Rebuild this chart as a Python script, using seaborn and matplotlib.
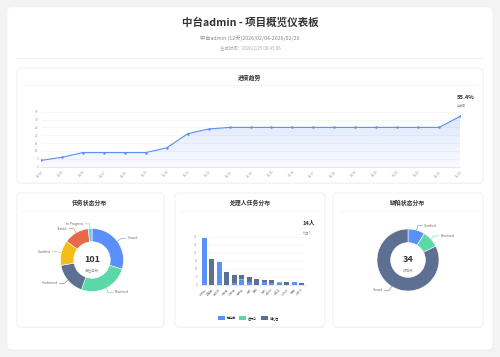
import numpy as np
import matplotlib
matplotlib.use("Agg")
import matplotlib.pyplot as plt
import seaborn as sns
from matplotlib.patches import FancyBboxPatch, Patch

# ---------------- data ----------------
dates = ["02/04", "02/05", "02/06", "02/07", "02/08", "02/09", "02/10", "02/11",
         "02/12", "02/13", "02/14", "02/15", "02/16", "02/17", "02/18", "02/19",
         "02/20", "02/21", "02/22", "02/23", "02/24"]
progress = [4, 6, 9, 9, 9, 9, 12, 21, 24, 25, 25, 25, 25, 25, 25, 25, 25, 25, 25, 25, 32]
completion_rate = "55.4%"

task_status = ["Closed", "Resolved", "Confirmed", "Clarified", "Tested", "In Progress"]
task_counts = [30, 26, 17, 13, 13, 2]
task_total = 101

assignees = ["张明华", "李建国", "王晓东", "刘志强", "陈思远", "杨丽娟", "赵磊",
             "黄鹏", "周杰", "吴晓峰", "郑海涛", "孙悦然", "马超", "胡文斌"]
done = [29, 0, 14, 0, 1, 3, 2, 0, 2, 1, 1, 0, 2, 0]
doing = [0, 0, 0, 0, 0, 1, 0, 0, 0, 0, 1, 0, 0, 0]
todo = [0, 16, 0, 8, 5, 2, 3, 4, 1, 2, 0, 2, 0, 1]
bar_series = ["已完成", "进行中", "待处理"]
assignee_count = "14人"

bug_status = ["Clarified", "Resolved", "Closed"]
bug_counts = [3, 3, 28]
bug_total = 34

# ---------------- style ----------------
BLUE, GREEN, SLATE, YELLOW, RED, CYAN = "#5B8FF9", "#5AD8A6", "#5D7092", "#F6BD16", "#E8684A", "#6DC8EC"
task_colors = [BLUE, GREEN, SLATE, YELLOW, RED, CYAN]
bug_colors = [BLUE, GREEN, SLATE]

sns.set_theme(style="white")
plt.rcParams['font.family'] = ['Noto Sans CJK SC', 'DejaVu Sans']

W, H = 500, 357
fig = plt.figure(figsize=(5, 3.57), dpi=100)
fig.patch.set_facecolor("#f3f3f3")
bg = fig.add_axes([0, 0, 1, 1])
bg.set_xlim(0, W); bg.set_ylim(H, 0); bg.axis("off")


def card(x0, y0, x1, y1, r=4, ec="#ebebeb"):
    bg.add_patch(FancyBboxPatch((x0 + 0.3, y0 + 0.8), x1 - x0, y1 - y0,
                                boxstyle=f"round,pad=0,rounding_size={r}",
                                fc="#000000", alpha=0.035, ec="none"))
    bg.add_patch(FancyBboxPatch((x0, y0), x1 - x0, y1 - y0,
                                boxstyle=f"round,pad=0,rounding_size={r}",
                                fc="white", ec=ec, lw=0.5))


def add_ax(x0, y0, x1, y1):
    return fig.add_axes([x0 / W, 1 - y1 / H, (x1 - x0) / W, (y1 - y0) / H])


# outer card + header
card(7, 7, 493, 350, r=5, ec="#f0f0f0")
bg.text(250, 23, "中台admin - 项目概览仪表板", ha="center", va="center",
        fontsize=7.6, fontweight="bold", color="#333333")
bg.text(250, 38, "中台admin (12天)2026/02/04-2026/02/26", ha="center", va="center",
        fontsize=3.8, color="#888888")
bg.text(250, 48, "生成时间：2026/2/25 08:45:06", ha="center", va="center",
        fontsize=3.2, color="#aaaaaa")
bg.plot([16, 484], [58, 58], color="#eeeeee", lw=0.6)

# cards
card(17, 68, 483, 183)
card(17, 193, 164, 327)
card(175, 193, 325, 327)
card(333, 193, 483, 327)

bg.text(250, 78, "进度趋势", ha="center", va="center", fontsize=4.2, fontweight="bold", color="#333333")
bg.plot([22, 478], [85, 85], color="#f2f2f2", lw=0.5)
for cx, (x0, x1), t in [(90, (22, 159), "任务状态分布"), (250, (180, 320), "处理人任务分布"),
                        (408, (338, 478), "缺陷状态分布")]:
    bg.text(cx, 203, t, ha="center", va="center", fontsize=4.2, fontweight="bold", color="#333333")
    bg.plot([x0, x1], [211, 211], color="#f2f2f2", lw=0.5)

# ---------------- progress line ----------------
ax = add_ax(41, 111.7, 460, 166.7)
x_idx = np.arange(len(progress))
poly = ax.fill_between(x_idx, progress, 0, color="none", lw=0)
rgba = np.zeros((256, 1, 4))
rgba[..., :3] = matplotlib.colors.to_rgb(BLUE)
rgba[:, 0, 3] = np.linspace(0.22, 0.04, 256)
img = ax.imshow(rgba, extent=[0, len(progress) - 1, 0, 35], aspect="auto", origin="upper", zorder=1)
img.set_clip_path(poly.get_paths()[0], transform=ax.transData)
sns.lineplot(x=x_idx, y=progress, ax=ax, color=BLUE, lw=0.8, marker="o", markersize=1.8,
             markeredgewidth=0, zorder=3)
ax.set_xlim(0, len(progress) - 1); ax.set_ylim(0, 35)
ax.set_yticks(range(0, 36, 5))
ax.set_xticks(x_idx)
ax.set_xticklabels(dates, rotation=45, ha="right", rotation_mode="anchor")
ax.tick_params(axis="both", labelsize=2.2, colors="#999999", length=0, pad=2)
ax.grid(axis="y", color="#f0f0f0", lw=0.4)
ax.set_facecolor("none")
for s in ["left", "top", "right"]:
    ax.spines[s].set_visible(False)
ax.spines["bottom"].set_color("#dddddd"); ax.spines["bottom"].set_linewidth(0.5)
ax.set_xlabel(""); ax.set_ylabel("")
bg.text(457, 97.7, completion_rate, ha="left", va="center", fontsize=4.2, fontweight="bold", color="#333333")
bg.text(457, 105.7, "完成率", ha="left", va="center", fontsize=2.2, color="#999999")


# ---------------- donuts ----------------
def donut(cx, cy, r_px, counts, labels, colors, total, sub, width):
    half = r_px * 1.25
    dax = add_ax(cx - half, cy - half, cx + half, cy + half)
    wedges, _ = dax.pie(counts, colors=colors, startangle=90, counterclock=False, radius=1,
                        wedgeprops=dict(width=width, edgecolor="white", linewidth=0.4))
    dax.set_xlim(-1.25, 1.25); dax.set_ylim(-1.25, 1.25); dax.set_aspect("equal")
    dax.axis("off")
    for w, lab, c in zip(wedges, labels, colors):
        ang = np.deg2rad((w.theta1 + w.theta2) / 2)
        ca, sa = np.cos(ang), np.sin(ang)
        p1 = (ca * 1.15, sa * 1.15)
        sgn = 1 if ca >= 0 else -1
        p2 = (p1[0] + sgn * 0.15, p1[1])
        dax.plot([ca * 1.0, p1[0], p2[0]], [sa * 1.0, p1[1], p2[1]], color=c, lw=0.4, clip_on=False)
        dax.text(p2[0] + sgn * 0.05, p2[1], lab, ha="left" if sgn > 0 else "right", va="center",
                 fontsize=2.4, color="#666666", clip_on=False)
    dax.text(0, 0.03, str(total), ha="center", va="center", fontsize=6.5, fontweight="bold", color="#333333")
    dax.text(0, -0.36, sub, ha="center", va="center", fontsize=2.6, color="#999999")


donut(92, 260, 31.5, task_counts, task_status, task_colors, task_total, "总任务数", 0.42)
donut(408, 260, 31, bug_counts, bug_status, bug_colors, bug_total, "缺陷数", 0.44)

# ---------------- stacked bars ----------------
bax = add_ax(200.3, 236.7, 305.5, 285)
tot = [a + b + c for a, b, c in zip(done, doing, todo)]
dn_dg = [a + b for a, b in zip(done, doing)]
sns.barplot(x=assignees, y=tot, order=assignees, color=SLATE, saturation=1, width=0.67, lw=0, ax=bax)
sns.barplot(x=assignees, y=dn_dg, order=assignees, color=GREEN, saturation=1, width=0.67, lw=0, ax=bax)
sns.barplot(x=assignees, y=done, order=assignees, color=BLUE, saturation=1, width=0.67, lw=0, ax=bax)
bax.set_xlim(-0.5, len(assignees) - 0.5); bax.set_ylim(0, 30)
bax.set_yticks(range(0, 31, 5))
bax.set_xticks(range(len(assignees)))
bax.set_xticklabels(assignees, rotation=45, ha="right", rotation_mode="anchor")
bax.tick_params(axis="both", labelsize=2.1, colors="#999999", length=0, pad=2)
bax.grid(axis="y", color="#f0f0f0", lw=0.4)
bax.set_axisbelow(True)
bax.set_facecolor("none")
for s in ["left", "top", "right"]:
    bax.spines[s].set_visible(False)
bax.spines["bottom"].set_color("#dddddd"); bax.spines["bottom"].set_linewidth(0.5)
bax.set_xlabel(""); bax.set_ylabel("")
bg.text(303, 222.7, assignee_count, ha="left", va="center", fontsize=4.2, fontweight="bold", color="#333333")
bg.text(303, 232, "处理人", ha="left", va="center", fontsize=2.2, color="#999999")

handles = [Patch(facecolor=c, edgecolor="none", label=l) for c, l in zip([BLUE, GREEN, SLATE], bar_series)]
fig.legend(handles=handles, loc="center", bbox_to_anchor=(248 / W, 1 - 318 / H), ncol=3,
           fontsize=2.2, frameon=False, handlelength=2.4, handleheight=1.2, handletextpad=0.5,
           columnspacing=1.2)

fig.savefig("out.png", dpi=100, facecolor=fig.get_facecolor())
